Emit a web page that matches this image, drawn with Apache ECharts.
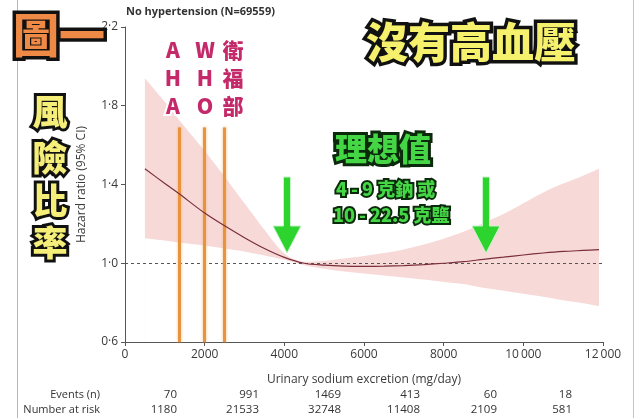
<!DOCTYPE html>
<html>
<head>
<meta charset="utf-8">
<script src="https://cdn.jsdelivr.net/npm/echarts@6/dist/echarts.min.js"></script>
<style>
html,body{margin:0;padding:0;background:#fff;}
#c{width:640px;height:418px;}
</style>
</head>
<body>
<div id="c"></div>
<script>
// ---- data ----
const sodium = [500,1000,1350,2000,2500,3000,3500,4000,4500,5000,5500,6000,6500,7000,7500,8000,8500,9000,9500,10000,10500,11000,11500,11900];
const hazard = [1.48,1.405,1.354,1.255,1.19,1.13,1.075,1.03,1.0,0.99,0.985,0.984,0.985,0.988,0.993,1.0,1.008,1.02,1.031,1.042,1.052,1.06,1.065,1.069];
const upperCI = [1.94,1.82,1.73,1.57,1.44,1.305,1.17,1.05,1.008,1.012,1.024,1.037,1.052,1.07,1.095,1.125,1.16,1.205,1.25,1.305,1.36,1.405,1.445,1.48];
const lowerCI = [1.127,1.115,1.105,1.09,1.075,1.06,1.04,1.018,0.99,0.972,0.958,0.948,0.938,0.928,0.917,0.905,0.895,0.875,0.86,0.845,0.83,0.812,0.797,0.782];
const guidelineX = [1350, 2000, 2500];
const yTicks = [0.6, 1.0, 1.4, 1.8, 2.2];
const eventsN = ['70','991','1469','413','60','18'];
const atRisk = ['1180','21533','32748','11408','2109','581'];
const title = 'No hypertension (N=69559)';

const chart = echarts.init(document.getElementById('c'));
const latin = "'Open Sans', 'Noto Sans', sans-serif";
const cjk = "'Noto Sans CJK TC', 'Noto Sans CJK SC', sans-serif";

const upperData = sodium.map((x,i)=>[x, upperCI[i]]);
const lowerData = sodium.map((x,i)=>[x, lowerCI[i]]);
const hrData = sodium.map((x,i)=>[x, hazard[i]]);

function fmtX(v){
  const s = String(v);
  return v >= 10000 ? s.slice(0, s.length-3) + '\u2009' + s.slice(-3) : s;
}

const colRight = [177, 259, 341, 420, 497, 572];
const graphics = [];
graphics.push({type:'line', shape:{x1:17.5,y1:0,x2:17.5,y2:418}, style:{stroke:'#b8b8b8', lineWidth:1}, silent:true});
graphics.push({type:'line', shape:{x1:633.5,y1:0,x2:633.5,y2:418}, style:{stroke:'#c4c4c4', lineWidth:1}, silent:true});
graphics.push({type:'text', x:126, y:12, style:{text:title, font:"bold 11px "+latin, fill:'#333', textVerticalAlign:'middle'}});
const tf = "11px "+latin;
graphics.push({type:'text', x:100, y:395, style:{text:'Events (n)', font:tf, fill:'#333', textAlign:'right', textVerticalAlign:'middle'}});
graphics.push({type:'text', x:100, y:410, style:{text:'Number at risk', font:tf, fill:'#333', textAlign:'right', textVerticalAlign:'middle'}});
eventsN.forEach((t,i)=>graphics.push({type:'text', x:colRight[i], y:395, style:{text:t, font:"11.5px "+latin, fill:'#333', textAlign:'right', textVerticalAlign:'middle'}}));
atRisk.forEach((t,i)=>graphics.push({type:'text', x:colRight[i], y:410, style:{text:t, font:"11.5px "+latin, fill:'#333', textAlign:'right', textVerticalAlign:'middle'}}));

function outlined(text, x, y, size, fill, stroke, lw, align){
  graphics.push({type:'text', x:x, y:y, z:100, style:{text:text, font:"900 "+size+"px "+cjk, fill:fill, stroke:stroke, lineWidth:lw, lineJoin:'round', textAlign:align||'center', textVerticalAlign:'middle'}});
}
outlined('圖一', 13, 35, 46, '#ee8a45', '#111', 7, 'left');
outlined('沒有高血壓', 471, 42, 42, '#f6f16c', '#111', 7);
['風','險','比','率'].forEach((c,i)=>outlined(c, 50, [112,158,201,243][i], 35, '#f5ef7a', '#111', 6));
const rowsY = [50, 78, 106];
['A','H','A'].forEach((c,i)=>outlined(c, 173, rowsY[i], 21, '#c42a6a', '#fff', 4));
['W','H','O'].forEach((c,i)=>outlined(c, 205, rowsY[i], 21, '#c42a6a', '#fff', 4));
['衛','福','部'].forEach((c,i)=>outlined(c, 233, rowsY[i], 21, '#c42a6a', '#fff', 4));
outlined('理想值', 383, 149, 32, '#45d645', '#0b2a0b', 6);
outlined('4 - 9 克鈉 或', 336, 189, 18, '#45d645', '#0b2a0b', 4, 'left');
outlined('10 - 22.5 克鹽', 333, 215, 18, '#45d645', '#0b2a0b', 4, 'left');
function arrow(cx){
  graphics.push({type:'polygon', z:90, shape:{points:[[cx-3.5,177],[cx+3.5,177],[cx+3.5,226],[cx+14,226],[cx,253],[cx-14,226],[cx-3.5,226]]},
    style:{fill:'#2dd42d', stroke:'#c9f3c9', lineWidth:1}});
}
arrow(287); arrow(486);

chart.setOption({
  animation:false,
  backgroundColor:'#fff',
  grid:{left:125, right:37, top:27, bottom:76},
  xAxis:{
    type:'value', min:0, max:12000, interval:2000,
    axisLine:{show:true, lineStyle:{color:'#555', width:1}},
    axisTick:{show:true, length:4, lineStyle:{color:'#555'}},
    axisLabel:{color:'#3a3a3a', fontSize:12, fontFamily:latin, margin:7, formatter:fmtX},
    splitLine:{show:false},
    name:'Urinary sodium excretion (mg/day)', nameLocation:'middle', nameGap:32,
    nameTextStyle:{color:'#3a3a3a', fontSize:12, fontFamily:latin}
  },
  yAxis:{
    type:'value', min:0.6, max:2.2,
    axisLine:{show:true, lineStyle:{color:'#555', width:1}},
    axisTick:{show:true, length:4, lineStyle:{color:'#555'}, customValues:yTicks},
    axisLabel:{color:'#3a3a3a', fontSize:12, fontFamily:latin, margin:7, customValues:yTicks,
      formatter:v=>v.toFixed(1).replace('.', '\u00b7')},
    splitLine:{show:false},
    name:'Hazard ratio (95% CI)', nameLocation:'middle', nameGap:37, nameRotate:90,
    nameTextStyle:{color:'#3a3a3a', fontSize:12, fontFamily:latin}
  },
  series:[
    {type:'line', data:upperData, symbol:'none', smooth:0.3, lineStyle:{opacity:0}, silent:true, z:1,
      areaStyle:{color:'#f7d9d8', opacity:1, origin:'start'}},
    {type:'line', data:lowerData, symbol:'none', smooth:0.3, lineStyle:{opacity:0}, silent:true, z:2,
      areaStyle:{color:'#ffffff', opacity:1, origin:'start'}},
    {type:'line', data:hrData, symbol:'none', smooth:0.3, lineStyle:{color:'#7a2e3c', width:1.2}, z:5, silent:true,
      markLine:{
        symbol:'none', silent:true, label:{show:false},
        data:[
          {yAxis:1.0, lineStyle:{color:'#555', type:[3,3], width:1}},
          ...guidelineX.map(x=>[{coord:[x,1.69], lineStyle:{color:'#e8943f', width:3, type:'solid', shadowColor:'rgba(245,180,110,0.9)', shadowBlur:3}},{coord:[x,0.6]}])
        ]
      }
    }
  ],
  graphic:graphics
});
</script>
</body>
</html>
